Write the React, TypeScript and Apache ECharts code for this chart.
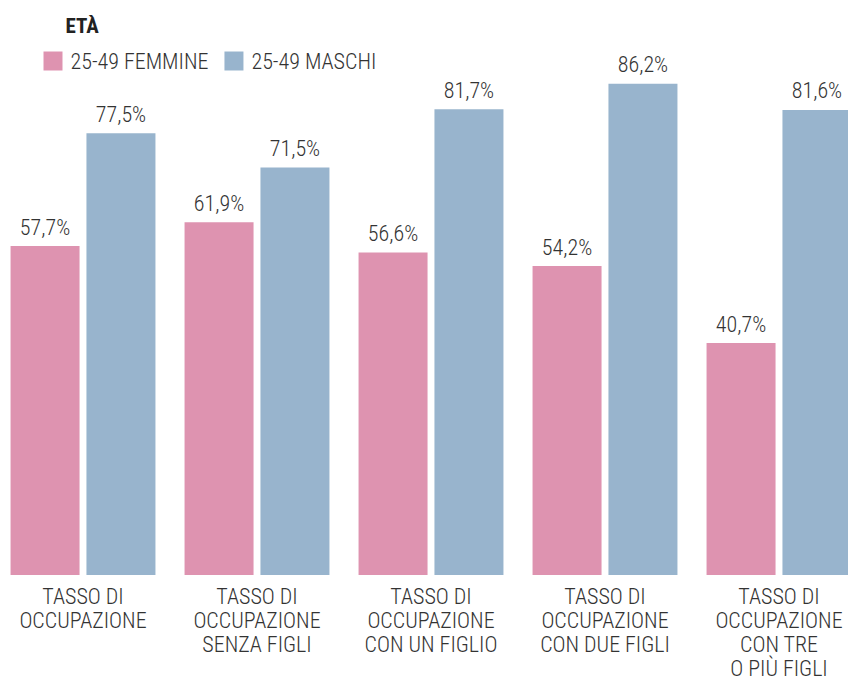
import React, { useEffect, useRef } from "react";
import * as echarts from "echarts";

const categories = [
  "TASSO DI\nOCCUPAZIONE",
  "TASSO DI\nOCCUPAZIONE\nSENZA FIGLI",
  "TASSO DI\nOCCUPAZIONE\nCON UN FIGLIO",
  "TASSO DI\nOCCUPAZIONE\nCON DUE FIGLI",
  "TASSO DI\nOCCUPAZIONE\nCON TRE\nO PIÙ FIGLI",
];
const femmine = [57.7, 61.9, 56.6, 54.2, 40.7];
const maschi = [77.5, 71.5, 81.7, 86.2, 81.6];
const seriesNames = ["25-49 FEMMINE", "25-49 MASCHI"];
const legendTitle = "ETÀ";

const FONT = "'Roboto Condensed', 'Liberation Sans Narrow', 'DejaVu Sans Condensed', 'Liberation Sans', sans-serif";
const PINK = "#de93b0";
const BLUE = "#98b4cd";
const TEXT = "#333333";
const SHIFT = 4.5;

export default function App() {
  const ref = useRef<HTMLDivElement>(null);
  useEffect(() => {
    if (!ref.current) return;
    const chart = echarts.init(ref.current, undefined, { renderer: "svg" });
    const fmt = (p: any) => p.value.toFixed(1).replace(".", ",") + "%";
    const label = {
      show: true,
      position: "top",
      distance: 8,
      color: TEXT,
      fontFamily: FONT,
      fontWeight: 300,
      fontSize: 22,
      formatter: fmt,
    };
    chart.setOption({
      animation: false,
      textStyle: { fontFamily: FONT },
      graphic: [
        {
          type: "text",
          left: 65 + SHIFT,
          top: 15,
          style: { text: legendTitle, fill: "#222", font: `bold 21px ${FONT}` },
        },
      ],
      legend: {
        left: 38 + SHIFT,
        top: 45,
        itemWidth: 19,
        itemHeight: 19,
        itemGap: 16,
        icon: "rect",
        textStyle: { color: TEXT, fontFamily: FONT, fontWeight: 300, fontSize: 22, padding: [0, 0, 0, 3] },
        data: seriesNames,
      },
      grid: { left: 0, right: 0, top: 5, bottom: 103 },
      xAxis: {
        type: "category",
        data: categories,
        axisLine: { show: false },
        axisTick: { show: false },
        axisLabel: {
          interval: 0,
          color: TEXT,
          fontFamily: FONT,
          fontWeight: 300,
          fontSize: 22,
          lineHeight: 24,
          margin: 9,
          align: "center",
        },
      },
      yAxis: { type: "value", min: 0, max: 100, show: false, splitLine: { show: false } },
      series: [
        {
          name: seriesNames[0],
          type: "bar",
          data: femmine,
          barWidth: 69,
          barGap: "10%",
          itemStyle: { color: PINK },
          label,
        },
        {
          name: seriesNames[1],
          type: "bar",
          data: maschi,
          barWidth: 69,
          barGap: "10%",
          itemStyle: { color: BLUE },
          label,
        },
      ],
    });
    return () => chart.dispose();
  }, []);
  return (
    <div style={{ position: "absolute", left: 0, top: 0, width: 848, height: 680, overflow: "hidden" }}>
      <div ref={ref} style={{ position: "absolute", left: -SHIFT, top: 0, width: 870, height: 680 }} />
    </div>
  );
}
